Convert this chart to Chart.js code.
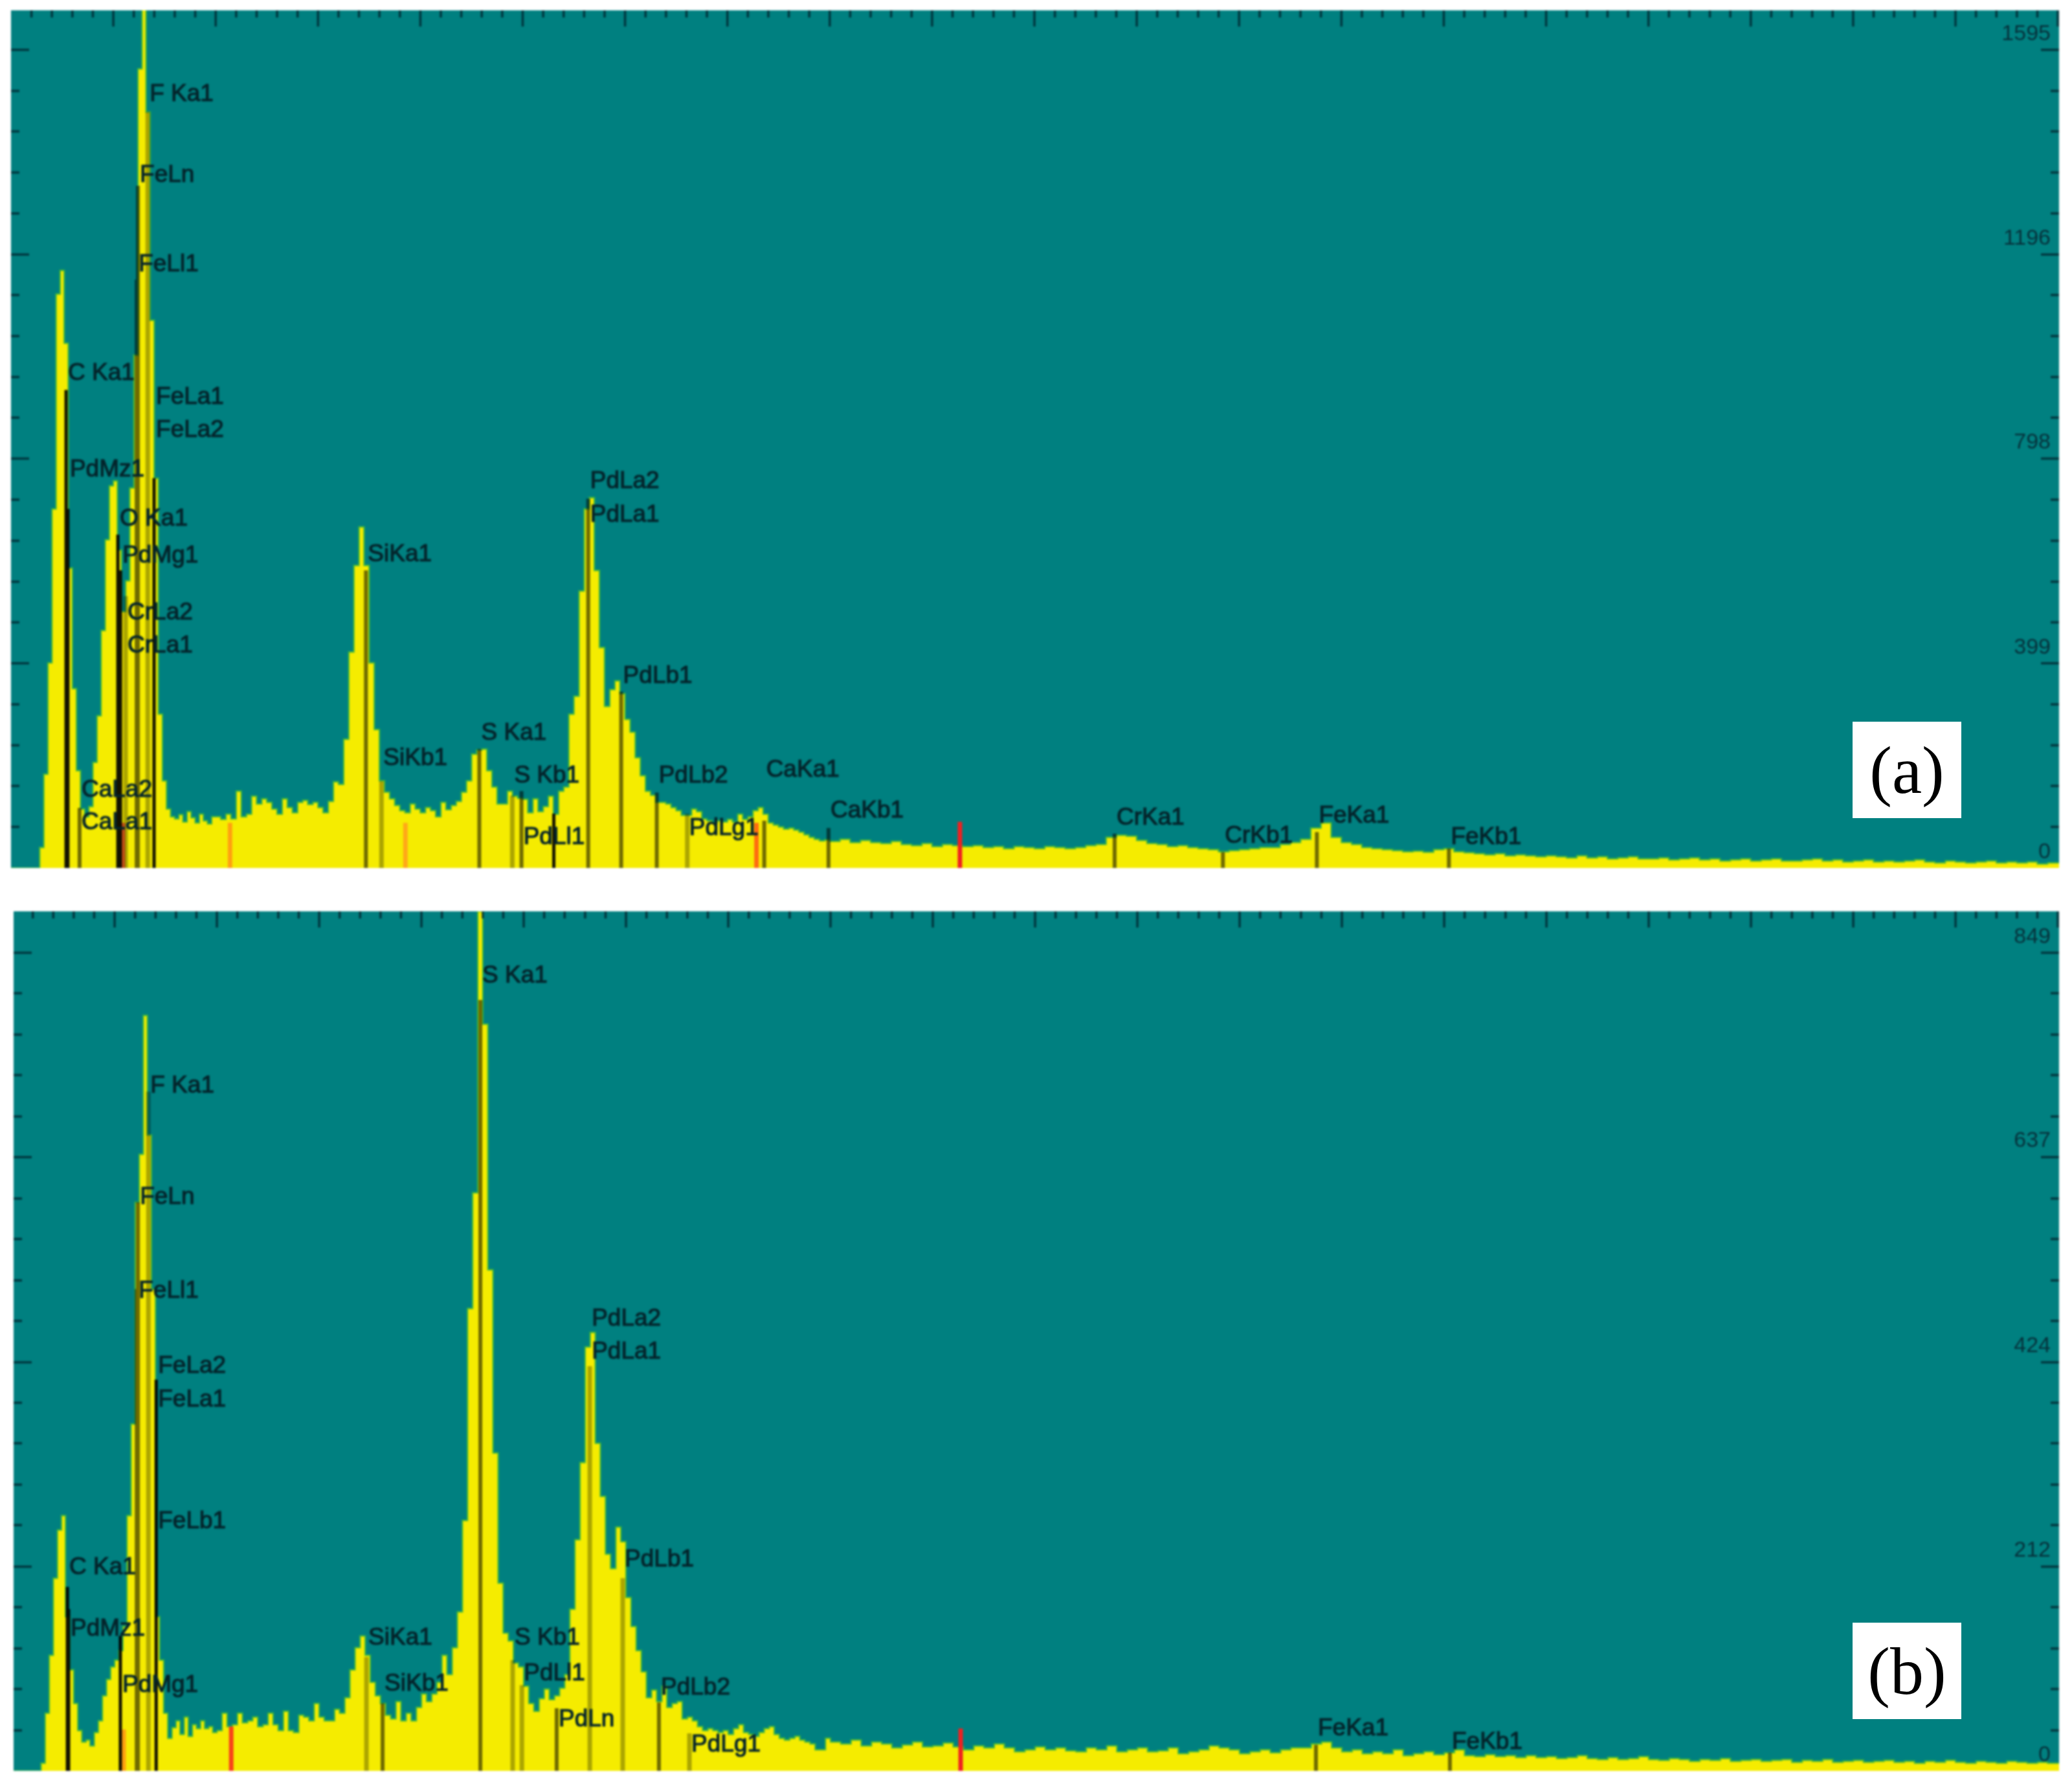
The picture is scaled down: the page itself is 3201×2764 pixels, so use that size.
<!DOCTYPE html>
<html><head><meta charset="utf-8">
<style>
html,body{margin:0;padding:0;background:#fff;width:3201px;height:2764px;overflow:hidden}
canvas{position:absolute;filter:blur(1.4px)}
.tag{position:absolute;background:#fff;color:#000;font-family:"Liberation Serif",serif;font-size:104px;line-height:149px;height:149px;width:168px;text-align:center;filter:blur(.7px)}
</style>
<script src="https://cdn.jsdelivr.net/npm/chart.js@4"></script>
</head><body>
<canvas id="pa" width="3164" height="1325" style="left:17px;top:16px"></canvas>
<canvas id="pb" width="3160" height="1328" style="left:21px;top:1408px"></canvas>
<div class="tag" style="left:2862px;top:1115px">(a)</div>
<div class="tag" style="left:2862px;top:2507px">(b)</div>
<script>
// channel energies (keV)
const energies=[0,.02,.04,.06,.08,.1,.12,.14,.16,.18,.2,.22,.24,.26,.28,.3,.32,.34,.36,.38,.4,.42,.44,.46,.48,.5,.52,.54,.56,.58,.6,.62,.64,.66,.68,.7,.72,.74,.76,.78,.8,.82,.84,.86,.88,.9,.92,.94,.96,.98,
1,1.025,1.05,1.075,1.1,1.125,1.15,1.175,1.2,1.225,1.25,1.275,1.3,1.325,1.35,1.375,1.4,1.425,1.45,1.475,1.5,1.525,1.55,1.575,1.6,1.625,1.65,1.675,1.7,1.725,1.75,1.775,1.8,1.825,1.85,1.875,1.9,1.925,1.95,1.975,
2,2.025,2.05,2.075,2.1,2.125,2.15,2.175,2.2,2.225,2.25,2.275,2.3,2.325,2.35,2.375,2.4,2.425,2.45,2.475,2.5,2.525,2.55,2.575,2.6,2.625,2.65,2.675,2.7,2.725,2.75,2.775,2.8,2.825,2.85,2.875,2.9,2.925,2.95,2.975,
3,3.025,3.05,3.075,3.1,3.125,3.15,3.175,3.2,3.225,3.25,3.275,3.3,3.325,3.35,3.375,3.4,3.425,3.45,3.475,3.5,3.525,3.55,3.575,3.6,3.625,3.65,3.675,3.7,3.725,3.75,3.775,3.8,3.825,3.85,3.875,3.9,3.925,3.95,3.975,
4,4.05,4.1,4.15,4.2,4.25,4.3,4.35,4.4,4.45,4.5,4.55,4.6,4.65,4.7,4.75,4.8,4.85,4.9,4.95,5,5.05,5.1,5.15,5.2,5.25,5.3,5.35,5.4,5.45,5.5,5.55,5.6,5.65,5.7,5.75,5.8,5.85,5.9,5.95,
6,6.05,6.1,6.15,6.2,6.25,6.3,6.35,6.4,6.45,6.5,6.55,6.6,6.65,6.7,6.75,6.8,6.85,6.9,6.95,7,7.05,7.1,7.15,7.2,7.25,7.3,7.35,7.4,7.45,7.5,7.55,7.6,7.65,7.7,7.75,7.8,7.85,7.9,7.95,
8,8.05,8.1,8.15,8.2,8.25,8.3,8.35,8.4,8.45,8.5,8.55,8.6,8.65,8.7,8.75,8.8,8.85,8.9,8.95,9,9.05,9.1,9.15,9.2,9.25,9.3,9.35,9.4,9.45,9.5,9.55,9.6,9.65,9.7,9.75,9.8,9.85,9.9,9.95,10.02];

// spectrum (a): counts per channel
const countsA=[0,0,0,0,0,0,0,40,183,400,700,1119,1165,1023,585,350,190,115,100,120,206,297,463,640,745,755,620,500,560,741,1000,1558,1675,1474,1068,760,300,170,115,100,96,104,90,110,98,88,105,92,86,100,
100,95,105,96,150,100,105,140,125,135,128,115,105,135,118,108,128,132,124,128,118,108,130,168,163,251,421,590,665,590,400,270,170,148,135,122,112,108,125,115,
108,118,112,100,128,114,122,130,148,170,222,230,232,190,158,125,125,150,140,136,134,108,135,110,120,140,105,150,158,300,335,540,700,722,580,430,315,348,365,340,
290,265,215,180,150,142,128,128,125,118,112,103,103,115,110,96,92,88,92,90,95,90,105,95,100,112,118,105,88,84,80,76,78,74,70,65,60,56,53,55,
52,56,50,54,50,48,52,46,44,48,42,46,44,42,44,40,42,38,42,40,38,42,40,38,40,44,46,60,64,62,54,48,46,42,44,40,38,36,32,34,
36,38,40,40,46,50,56,78,88,60,50,46,40,38,36,34,32,33,31,36,38,32,30,28,26,28,24,26,24,22,24,22,20,24,20,22,18,20,22,18,
18,20,16,18,20,16,18,14,16,18,14,16,18,14,14,16,18,14,16,12,14,16,12,14,12,14,16,12,10,14,12,10,12,14,10,12,10,12,8,10,10];

// spectrum (b): counts per channel
const countsB=[0,0,0,0,0,0,0,8,60,120,200,250,265,160,105,70,42,30,32,26,40,52,78,95,108,115,125,150,265,360,590,640,784,660,500,160,115,60,34,45,52,38,56,36,48,44,52,44,46,40,
42,60,46,48,60,50,52,56,46,48,60,48,42,62,42,40,58,56,52,70,56,52,52,64,60,76,105,128,140,120,92,78,70,58,54,72,52,60,52,66,
80,72,80,92,120,100,128,165,260,480,600,892,775,520,330,195,143,135,112,108,88,70,62,75,85,74,78,86,100,168,240,320,440,455,340,285,225,210,253,238,
180,150,125,103,76,84,72,88,66,70,72,54,56,52,46,42,44,42,40,42,38,44,48,40,38,36,40,44,46,38,34,32,34,36,32,30,28,22,22,34,
30,28,32,26,30,28,24,27,30,25,26,29,25,22,26,24,28,24,20,22,25,22,24,21,20,24,22,26,20,22,24,20,21,24,18,20,22,26,24,22,
18,20,22,19,22,24,24,28,30,24,20,22,18,20,18,22,16,18,20,17,19,22,16,15,17,15,16,14,16,14,15,13,14,16,13,12,14,12,13,15,
12,11,13,12,10,12,11,13,10,11,12,10,11,12,9,11,10,12,9,10,11,9,10,11,9,10,8,10,9,11,9,8,10,9,8,10,9,8,9,8,8];

// element markers, (a)
const namesA=['C Ka1','PdMz1','CaLa2','CaLa1','O Ka1','PdMg1','CrLa2','CrLa1','FeLl1','FeLn','F Ka1','FeLa1','FeLa2','SiKa1','SiKb1','S Ka1','S Kb1','PdLl1','','PdLa2','PdLa1','PdLb1','PdLb2','PdLg1','CaKa1','CaKb1','CrKa1','CrKb1','FeKa1','FeKb1'];
const lineEnergyA=[.269,.278,.335,.335,.522,.535,.56,.56,.614,.62,.668,.699,.699,1.734,1.81,2.288,2.449,2.494,2.652,2.82,2.82,2.981,3.155,3.304,3.68,3.994,5.392,5.921,6.38,7.025];
const lineTopA=[932,700,117,117,650,580,530,530,1147,1330,1474,760,760,580,169,232,141,150,106,720,720,344,147,106,92,78,67,31,70,38];
const labelCountsA=[964,776,152,88,681,608,498,433,1176,1351,1508,918,853,611,214,263,180,59,0,753,688,374,180,77,191,111,98,62,101,59];
const lineToneA=[2,2,1,1,2,2,0,0,1,1,0,2,2,1,0,1,0,1,2,1,1,1,1,0,1,1,1,1,1,1];
const stubEnergyA=[.547,1.07,1.927,3.642,4.636];
const stubColorA=['#f0601a','#ffa010','#ffa818','#ff6a10','#f02020'];
const stubTopA=[88,88,88,88,90];

// element markers, (b)
const namesB=['C Ka1','PdMz1','PdMg1','FeLl1','FeLn','F Ka1','FeLa2','FeLa1','FeLb1','SiKa1','SiKb1','S Ka1','S Kb1','PdLl1','PdLn','PdLa2','PdLa1','PdLb1','PdLb2','PdLg1','FeKa1','FeKb1'];
const lineEnergyB=[.269,.275,.528,.608,.614,.665,.703,.703,.703,1.731,1.81,2.288,2.446,2.491,2.661,2.823,2.823,2.984,3.161,3.31,6.373,7.028];
const lineTopB=[191,168,140,500,590,705,406,406,250,118,70,800,115,89,65,420,420,200,71,39,27,19];
const labelCountsB=[211,147,89,498,595,711,420,385,259,138,90,825,138,101,53,469,435,219,86,27,44,30];
const lineToneB=[2,2,2,1,1,0,2,2,2,0,1,1,0,0,1,0,0,0,1,0,1,1];
const stubEnergyB=[.544,1.07,4.636];
const stubColorB=['#ffa010','#f8401a','#f02020'];
const stubTopB=[43,46,44];

// axis ticks
const xMajor=[.5,1,1.5,2,2.5,3,3.5,4,4.5,5,5.5,6,6.5,7,7.5,8,8.5,9,9.5,10];
const xMinor=[.1,.2,.3,.4,.6,.7,.8,.9,1.1,1.2,1.3,1.4,1.6,1.7,1.8,1.9,2.1,2.2,2.3,2.4,2.6,2.7,2.8,2.9,3.1,3.2,3.3,3.4,3.6,3.7,3.8,3.9,4.1,4.2,4.3,4.4,4.6,4.7,4.8,4.9,5.1,5.2,5.3,5.4,5.6,5.7,5.8,5.9,6.1,6.2,6.3,6.4,6.6,6.7,6.8,6.9,7.1,7.2,7.3,7.4,7.6,7.7,7.8,7.9,8.1,8.2,8.3,8.4,8.6,8.7,8.8,8.9,9.1,9.2,9.3,9.4,9.6,9.7,9.8,9.9];
const yMajorA=[0,399,798,1196,1595];
const yMinorA=[80,160,239,319,479,558,638,718,878,957,1037,1117,1276,1356,1436,1515];
const yMajorB=[0,212,424,637,849];
const yMinorB=[42,85,127,170,255,297,340,382,467,509,552,594,679,722,764,807];

const TEAL='#008080', YELLOW='#f5ec00', FRINGE='rgba(50,180,60,.75)';
const TONES=['rgba(0,0,0,.3)','rgba(0,0,0,.55)','rgba(0,0,0,.93)'];
const WIDTHS=[7,6,5];

const panelPlugin={
  id:'panel',
  beforeDraw(c){const a=c.chartArea,g=c.ctx;g.save();g.fillStyle=TEAL;g.fillRect(a.left,a.top,a.right-a.left,a.bottom-a.top);g.restore();},
  afterDatasetsDraw(c,_,o){
    const g=c.ctx,a=c.chartArea,x=c.scales.x,y=c.scales.y;
    g.save();g.strokeStyle='rgba(0,35,45,.8)';g.lineWidth=3.5;g.beginPath();
    x.ticks.forEach(t=>{const px=x.getPixelForValue(t.value),l=o.xMajor.includes(t.value)?25:11;g.moveTo(px,a.top);g.lineTo(px,a.top+l);});
    y.ticks.forEach(t=>{if(t.value===0)return;const py=y.getPixelForValue(t.value),l=o.yMajor.includes(t.value)?28:13;g.moveTo(a.left,py);g.lineTo(a.left+l,py);g.moveTo(a.right,py);g.lineTo(a.right-l,py);});
    g.stroke();
    g.font='37px "Liberation Sans"';g.textBaseline='middle';g.textAlign='left';g.fillStyle='#04242b';g.strokeStyle='#04242b';g.lineWidth=1.2;
    o.names.forEach((n,i)=>{if(!n)return;const px=x.getPixelForValue(o.energy[i])+3,py=y.getPixelForValue(o.labelY[i]);g.fillText(n,px,py);g.strokeText(n,px,py);});
    g.restore();
  }
};

function segs(en,top,keep){const d=[];en.forEach((e,i)=>{if(keep(i)){d.push({x:e,y:0},{x:e,y:top[i]},{x:e,y:null});}});return d;}
const flush=s=>{s.paddingTop=s.paddingBottom=s.paddingLeft=s.paddingRight=0;};

function build(id,counts,opt){
  const spectrum=energies.map((e,i)=>({x:e,y:counts[i]}));
  const ds=[{data:spectrum,stepped:'before',fill:'origin',backgroundColor:YELLOW,borderColor:FRINGE,borderWidth:2.5,pointRadius:0,order:5}];
  [0,1,2].forEach(t=>ds.push({data:segs(opt.energy,opt.top,i=>opt.tone[i]===t),borderColor:TONES[t],borderWidth:WIDTHS[t],pointRadius:0,fill:false,order:2,spanGaps:false,borderCapStyle:'butt'}));
  opt.stubE.forEach((e,i)=>ds.push({data:[{x:e,y:0},{x:e,y:opt.stubT[i]}],borderColor:opt.stubC[i],borderWidth:7,pointRadius:0,fill:false,order:3}));
  const yList=[...opt.yMajor,...opt.yMinor].sort((p,q)=>p-q);
  new Chart(document.getElementById(id),{
    type:'line',
    data:{datasets:ds},
    plugins:[panelPlugin],
    options:{
      responsive:false,animation:false,
      layout:{padding:0},
      plugins:{legend:{display:false},tooltip:{enabled:false},title:{display:false},
        panel:{names:opt.names,energy:opt.energy,labelY:opt.labelY,xMajor,yMajor:opt.yMajor}},
      scales:{
        x:{type:'linear',position:'top',min:opt.xMin,max:10.006,
          afterBuildTicks:s=>{s.ticks=[...xMajor,...xMinor].sort((p,q)=>p-q).map(v=>({value:v}));},
          afterFit:s=>{flush(s);s.height=0;},
          ticks:{display:false,autoSkip:false},grid:{display:false,drawTicks:false},border:{display:false}},
        y:{type:'linear',position:'right',min:0,max:opt.yMax,
          afterBuildTicks:s=>{s.ticks=yList.map(v=>({value:v}));},
          afterFit:s=>{flush(s);s.width=0;},
          ticks:{autoSkip:false,mirror:true,padding:-13,color:'#06303a',
            font:{family:'"Liberation Sans"',size:34,lineHeight:1.45},
            callback:v=>opt.yMajor.includes(v)?[String(v),'']:''},
          grid:{display:false,drawTicks:false},border:{display:false}}
      }
    }
  });
}
build('pa',countsA,{names:namesA,energy:lineEnergyA,top:lineTopA,labelY:labelCountsA,tone:lineToneA,stubE:stubEnergyA,stubC:stubColorA,stubT:stubTopA,yMajor:yMajorA,yMinor:yMinorA,yMax:1672,xMin:0});
build('pb',countsB,{names:namesB,energy:lineEnergyB,top:lineTopB,labelY:labelCountsB,tone:lineToneB,stubE:stubEnergyB,stubC:stubColorB,stubT:stubTopB,yMajor:yMajorB,yMinor:yMinorB,yMax:892,xMin:.006});
</script>
</body></html>
